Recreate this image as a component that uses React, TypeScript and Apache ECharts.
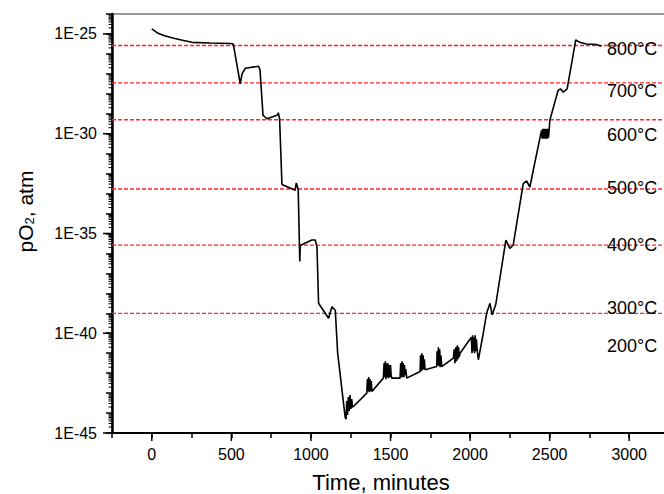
import React, { useEffect, useRef } from "react";
import * as echarts from "echarts";

// Time in minutes and measured log10(pO2 / atm)
const timeMin = [
  0, 40, 75, 138, 200, 253, 368, 494, 512, 556, 567, 588, 671, 680, 699, 724, 787, 795, 803,
  818, 901, 908, 920, 930, 933, 1006, 1027, 1038, 1048, 1111, 1132, 1153, 1168, 1215, 1221,
  1225, 1230, 1235, 1240, 1246, 1251, 1256, 1261, 1267,
  1351, 1355, 1359, 1363, 1367, 1371, 1375, 1379, 1383,
  1455, 1460, 1464, 1468, 1472, 1476, 1480, 1484, 1488, 1492, 1496, 1500, 1504, 1508,
  1560, 1564, 1568, 1572, 1576, 1580, 1584, 1588, 1592, 1596, 1602,
  1686, 1689, 1693, 1697, 1701, 1705, 1709, 1713, 1717,
  1790, 1793, 1797, 1801, 1805, 1809, 1813, 1817, 1822,
  1895, 1900, 1905, 1910, 1915, 1920, 1924, 1928, 1932, 1937,
  2008, 2012, 2016, 2020, 2024, 2028, 2032, 2036, 2040, 2044, 2052,
  2083, 2104, 2125, 2139, 2162, 2225, 2250, 2271, 2334, 2355, 2376, 2397, 2449,
  2453, 2457, 2461, 2465, 2469, 2473, 2477, 2481, 2485, 2489, 2493, 2497,
  2501, 2553, 2568, 2585, 2610, 2664, 2689, 2731, 2794, 2825,
];
const log10pO2 = [
  -24.75, -24.97, -25.08, -25.22, -25.33, -25.42, -25.45, -25.48, -25.5, -27.5, -27.0, -26.72, -26.62, -26.8, -29.08, -29.25, -29.08, -28.95, -29.25,
  -32.55, -32.83, -32.47, -32.8, -36.4, -35.6, -35.33, -35.33, -35.67, -38.5, -39.25, -38.67, -38.85, -41.0, -44.2, -44.3,
  -43.4, -44.1, -43.2, -43.9, -43.1, -43.8, -43.3, -43.7, -43.67,
  -43.0, -42.3, -42.9, -42.2, -42.95, -42.3, -42.9, -42.4, -42.92,
  -42.25, -41.5, -42.2, -41.4, -42.3, -41.5, -42.2, -41.5, -42.25, -41.6, -42.2, -41.6, -42.1, -42.25,
  -42.25, -41.5, -42.2, -41.4, -42.2, -41.5, -42.2, -41.6, -42.1, -41.8, -42.25,
  -41.92, -41.1, -41.9, -41.0, -41.85, -41.1, -41.8, -41.3, -41.83,
  -41.67, -40.9, -41.6, -40.7, -41.65, -40.8, -41.7, -41.1, -41.67,
  -41.25, -40.8, -41.5, -40.7, -41.4, -40.6, -41.3, -40.7, -41.2, -41.0,
  -40.2, -41.0, -40.1, -40.9, -40.2, -41.0, -40.1, -40.9, -40.3, -40.8, -41.33,
  -40.0, -39.0, -38.5, -39.08, -38.53, -35.33, -35.75, -35.58, -32.5, -32.37, -32.67, -31.83, -29.83,
  -30.25, -29.75, -30.25, -29.75, -30.25, -29.75, -30.25, -29.75, -30.25, -29.75, -30.2, -29.8,
  -29.33, -27.83, -27.75, -27.92, -27.75, -25.3, -25.42, -25.5, -25.53, -25.62,
];

// Equilibrium levels (log10 pO2) drawn as red dashed lines
const refLevels = [-25.58, -27.45, -29.3, -32.77, -35.58, -39.0];
const tempLabels = ["800°C", "700°C", "600°C", "500°C", "400°C", "300°C", "200°C"];

const xLabelTicks = [0, 500, 1000, 1500, 2000, 2500, 3000];
const yLabelTicks = [-45, -40, -35, -30, -25];

const FONT = '"Liberation Sans", Arial, Helvetica, sans-serif';

export default function App() {
  const ref = useRef<HTMLDivElement>(null);

  useEffect(() => {
    if (!ref.current) return;
    const chart = echarts.init(ref.current, undefined, { renderer: "svg" });

    const yMin = -45;
    const yMax = -24;
    const xMin = -250;
    const xMax = 3250;

    // log-spaced minor tick positions (2..9 within each decade)
    const yMinorTicks: number[] = [];
    for (let n = yMin; n < yMax; n++) {
      for (let k = 2; k <= 9; k++) yMinorTicks.push(n + Math.log10(k));
    }
    const tempLabelY = [49, 91, 135, 188, 245, 308, 346];

    const tickSeries = (data: number[][], dir: "x" | "y", len: number, width: number) => ({
      type: "custom",
      coordinateSystem: "cartesian2d",
      xAxisIndex: 0,
      yAxisIndex: 0,
      clip: false,
      silent: true,
      z: 6,
      data,
      renderItem: (_params: any, api: any) => {
        const p = api.coord([api.value(0), api.value(1)]);
        const w = dir === "x" ? width : len;
        const h = dir === "x" ? len : width;
        const x = dir === "x" ? p[0] - width / 2 : p[0] - len;
        const y = dir === "x" ? p[1] : p[1] - width / 2;
        return {
          type: "rect",
          shape: { x, y, width: w, height: h },
          style: { fill: "#000" },
        };
      },
    });

    const refSeries = refLevels.map((v) => ({
      type: "line",
      xAxisIndex: 0,
      yAxisIndex: 0,
      data: [
        [xMin, v],
        [xMax, v],
      ],
      symbol: "none",
      showSymbol: false,
      silent: true,
      z: 2,
      lineStyle: { color: "#ff2626", type: [4, 2], width: 1.3 },
    }));

    chart.setOption({
      animation: false,
      backgroundColor: "#ffffff",
      grid: {
        left: 112,
        top: 14,
        right: -5,
        bottom: 61,
        outerBoundsMode: "none",
        containLabel: false,
        show: true,
        borderColor: "#333",
        borderWidth: 1,
      },
      xAxis: {
        type: "value",
        position: "bottom",
        min: xMin,
        max: xMax,
        interval: 250,
        name: "Time, minutes",
        nameLocation: "middle",
        nameGap: 39,
        nameTextStyle: {
          fontSize: 22,
          lineHeight: 20,
          color: "#000",
          fontFamily: FONT,
          padding: [0, 19, 0, 0],
        },
        axisLine: { show: true, onZero: false, lineStyle: { color: "#000", width: 2 } },
        axisTick: { show: true, inside: false, length: 5, lineStyle: { color: "#000", width: 1.5 } },
        axisLabel: {
          show: true,
          margin: 13,
          fontSize: 16,
          color: "#000",
          fontFamily: FONT,
          formatter: (v: number) => (v >= 0 && v % 500 === 0 ? String(v) : ""),
        },
        splitLine: { show: false },
      },
      yAxis: {
        type: "value",
        position: "left",
        min: yMin,
        max: yMax,
        interval: 1,
        name: "{a|pO}{b|2}{a|, atm}",
        nameLocation: "middle",
        nameRotate: 90,
        nameGap: 76,
        nameTextStyle: {
          padding: [0, 0, 0, 24],
          rich: {
            a: { fontSize: 21, fontFamily: FONT, color: "#000", lineHeight: 24, verticalAlign: "bottom" },
            b: { fontSize: 13, fontFamily: FONT, color: "#000", lineHeight: 14, verticalAlign: "bottom" },
          },
        },
        axisLine: { show: true, onZero: false, lineStyle: { color: "#000", width: 2.5 } },
        axisTick: { show: true, inside: false, length: 6, lineStyle: { color: "#000", width: 1.5 } },
        axisLabel: {
          show: true,
          margin: 15,
          fontSize: 16,
          color: "#000",
          fontFamily: FONT,
          formatter: (v: number) => (v % 5 === 0 ? "1E" + v : ""),
        },
        splitLine: { show: false },
      },
      series: [
        ...refSeries,
        {
          type: "line",
          xAxisIndex: 0,
          yAxisIndex: 0,
          data: timeMin.map((t, i) => [t, log10pO2[i]]),
          showSymbol: false,
          symbol: "none",
          lineStyle: { color: "#000", width: 1.6 },
          z: 3,
        },
        tickSeries(xLabelTicks.map((v) => [v, yMin]), "x", 8, 1.5),
        tickSeries(yLabelTicks.map((v) => [xMin, v]), "y", 9, 1.5),
        tickSeries(yMinorTicks.map((v) => [xMin, v]), "y", 3.5, 1),
      ],
      graphic: tempLabels.map((s, i) => ({
        type: "text",
        x: 607,
        y: tempLabelY[i],
        z: 10,
        style: {
          text: s,
          fontSize: 18,
          fontFamily: FONT,
          fill: "#000",
          verticalAlign: "middle",
        },
      })),
    });

    return () => chart.dispose();
  }, []);

  return (
    <div
      ref={ref}
      style={{ position: "absolute", left: 0, top: 0, width: 664, height: 494 }}
    />
  );
}
